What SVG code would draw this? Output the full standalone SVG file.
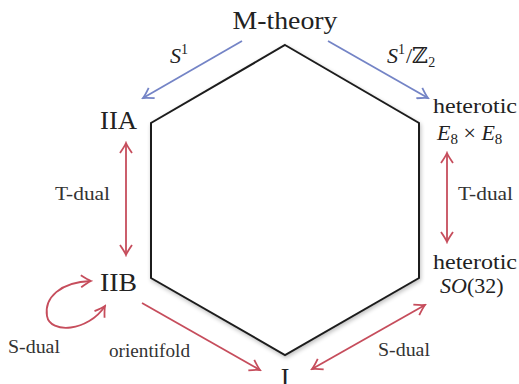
<svg xmlns="http://www.w3.org/2000/svg" width="519" height="384" viewBox="0 0 519 384" font-family="'Liberation Serif', 'Times New Roman', 'DejaVu Serif', serif">
<style>
text{font-family:"Liberation Serif","Times New Roman","DejaVu Serif",serif;fill:#222}
.big{font-size:26px}
.mid{font-size:22px}
.sm{font-size:18px;fill:#333}
.it{font-style:italic}
.blue{stroke:#7484c6;stroke-width:1.8;fill:none}
.red{stroke:#c64d5c;stroke-width:1.8;fill:none}
</style>
<defs>
<filter id="sh" x="-10%" y="-10%" width="120%" height="120%">
<feGaussianBlur in="SourceAlpha" stdDeviation="2"/>
<feOffset dx="1" dy="2" result="b"/>
<feComponentTransfer><feFuncA type="linear" slope="0.25"/></feComponentTransfer>
<feMerge><feMergeNode/><feMergeNode in="SourceGraphic"/></feMerge>
</filter>
<marker id="mb" viewBox="-12 -7 14 14" markerWidth="14" markerHeight="14" refX="0" refY="0" orient="auto-start-reverse" markerUnits="userSpaceOnUse">
<path d="M-10,-6 Q-3,-1.2 0,0 Q-3,1.2 -10,6" fill="none" stroke="#7484c6" stroke-width="1.8"/>
</marker>
<marker id="mr" viewBox="-12 -7 14 14" markerWidth="14" markerHeight="14" refX="0" refY="0" orient="auto-start-reverse" markerUnits="userSpaceOnUse">
<path d="M-10,-6 Q-3,-1.2 0,0 Q-3,1.2 -10,6" fill="none" stroke="#c64d5c" stroke-width="1.8"/>
</marker>
</defs>

<g id="hexagon">
<polygon points="285,45 419,123 419,278 285,355 151,278 151,123" fill="#fff" stroke="#1e1e1e" stroke-width="2" stroke-linejoin="miter" filter="url(#sh)"/>
</g>

<g id="connectors">
<line class="blue" x1="242" y1="41" x2="143" y2="98" marker-end="url(#mb)"/>
<line class="blue" x1="328" y1="41" x2="428" y2="98" marker-end="url(#mb)"/>
<line class="red" x1="126" y1="143" x2="126" y2="255" marker-start="url(#mr)" marker-end="url(#mr)"/>
<line class="red" x1="447" y1="153" x2="447" y2="242" marker-start="url(#mr)" marker-end="url(#mr)"/>
<line class="red" x1="142" y1="303" x2="260" y2="370" marker-end="url(#mr)"/>
<line class="red" x1="312" y1="369" x2="425" y2="305" marker-start="url(#mr)" marker-end="url(#mr)"/>
<path class="red" d="M91,281 C60,282 44,298 47,316 C50,334 88,332 105,306" marker-start="url(#mr)" marker-end="url(#mr)"/>
<text class="mid" x="170" y="63"><tspan class="it">S</tspan><tspan font-size="14" dy="-9">1</tspan></text>
<text class="mid" x="387" y="63"><tspan class="it">S</tspan><tspan font-size="14" dy="-9">1</tspan><tspan dy="9" dx="1">/ℤ</tspan><tspan font-size="14" dy="4">2</tspan></text>
<text class="sm" x="55" y="200" textLength="55" lengthAdjust="spacingAndGlyphs">T-dual</text>
<text class="sm" x="458" y="200" textLength="55" lengthAdjust="spacingAndGlyphs">T-dual</text>
<text class="sm" x="109" y="357" textLength="81" lengthAdjust="spacingAndGlyphs">orientifold</text>
<text class="sm" x="378" y="356" textLength="52" lengthAdjust="spacingAndGlyphs">S-dual</text>
<text class="sm" x="8" y="353" textLength="52" lengthAdjust="spacingAndGlyphs">S-dual</text>
</g>

<g id="node-mtheory"><text class="big" x="285" y="29" text-anchor="middle" textLength="105" lengthAdjust="spacingAndGlyphs">M-theory</text></g>
<g id="node-IIA"><text class="big" x="100" y="129" textLength="37" lengthAdjust="spacingAndGlyphs">IIA</text></g>
<g id="node-IIB"><text class="big" x="100" y="291" textLength="37" lengthAdjust="spacingAndGlyphs">IIB</text></g>
<g id="node-E8"><text class="mid" x="433" y="113" textLength="84" lengthAdjust="spacingAndGlyphs">heterotic</text>
<text class="mid" x="437" y="140"><tspan class="it">E</tspan><tspan font-size="15" dy="4">8</tspan><tspan dy="-4"> × </tspan><tspan class="it">E</tspan><tspan font-size="15" dy="4">8</tspan></text></g>
<g id="node-SO32"><text class="mid" x="433" y="269" textLength="84" lengthAdjust="spacingAndGlyphs">heterotic</text>
<text class="mid" x="440" y="293"><tspan class="it">SO</tspan>(32)</text></g>
<g id="node-I"><text class="big" x="285" y="386" text-anchor="middle">I</text></g>
</svg>
